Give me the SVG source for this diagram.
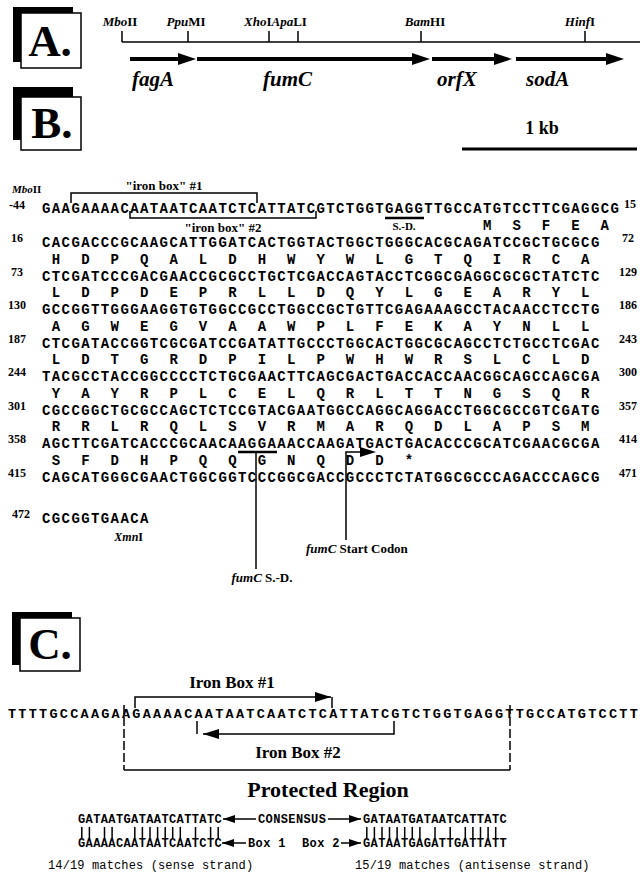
<svg xmlns="http://www.w3.org/2000/svg" width="643" height="875" viewBox="0 0 643 875">
<style>
text{white-space:pre}
.sv{font-family:"Liberation Serif","Times New Roman",serif;font-weight:bold;fill:#000}
.it{font-style:italic}
.sq{font-family:"Liberation Mono","Courier New",monospace;font-weight:bold;font-size:14px;letter-spacing:1.4px;fill:#000}
.sc{font-family:"Liberation Mono","Courier New",monospace;font-weight:bold;font-size:13.5px;letter-spacing:2.26px;fill:#000}
.sm{font-family:"Liberation Mono","Courier New",monospace;font-weight:bold;font-size:12px;letter-spacing:0.38px;fill:#000}
.mt{font-family:"Liberation Mono","Courier New",monospace;font-size:12px;letter-spacing:0.13px;fill:#000}
.num{font-family:"Liberation Serif","Times New Roman",serif;font-weight:bold;font-size:12px}
.ln{stroke:#000;stroke-width:1.5;fill:none}
.th{stroke:#000;stroke-width:4;fill:none}
</style>
<defs>
<marker id="ahL" markerUnits="userSpaceOnUse" markerWidth="16" markerHeight="10" refX="16" refY="5" orient="auto"><path d="M0,0 L16,5 L0,10 z" fill="#000"/></marker>
<marker id="ahS" markerUnits="userSpaceOnUse" markerWidth="12" markerHeight="8" refX="12" refY="4" orient="auto"><path d="M0,0 L12,4 L0,8 z" fill="#000"/></marker>
</defs>

<!-- Panel labels -->
<g id="labelA">
<rect x="13" y="7" width="60" height="55" fill="#000"/>
<rect x="21" y="13" width="60" height="55" fill="#fff" stroke="#000" stroke-width="1.5"/>
<text class="sv" x="50" y="56" font-size="45" text-anchor="middle">A.</text>
</g>
<g id="labelB">
<rect x="13" y="87" width="60" height="53" fill="#000"/>
<rect x="21" y="97" width="60" height="53" fill="#fff" stroke="#000" stroke-width="1.5"/>
<text class="sv" x="52" y="138" font-size="45" text-anchor="middle">B.</text>
</g>
<g id="labelC">
<rect x="12" y="612" width="60" height="53" fill="#000"/>
<rect x="20" y="618" width="60" height="53" fill="#fff" stroke="#000" stroke-width="1.5"/>
<text class="sv" x="50" y="659" font-size="45" text-anchor="middle">C.</text>
</g>

<!-- Panel A map -->
<g id="map">
<line class="ln" x1="122" y1="42" x2="640" y2="42" stroke-width="2.5"/>
<g class="ln" stroke-width="2.5">
<line x1="122" y1="31" x2="122" y2="42"/>
<line x1="188" y1="31" x2="188" y2="42"/>
<line x1="269" y1="31" x2="269" y2="42"/>
<line x1="298" y1="31" x2="298" y2="42"/>
<line x1="421" y1="31" x2="421" y2="42"/>
<line x1="585" y1="31" x2="585" y2="42"/>
</g>
<g class="sv" font-size="13">
<text x="120" y="26" text-anchor="middle"><tspan class="it">Mbo</tspan>II</text>
<text x="186" y="26" text-anchor="middle"><tspan class="it">Ppu</tspan>MI</text>
<text x="244" y="26"><tspan class="it">Xho</tspan>I<tspan class="it">Apa</tspan>LI</text>
<text x="425" y="26" text-anchor="middle"><tspan class="it">Bam</tspan>HI</text>
<text x="580" y="26" text-anchor="middle"><tspan class="it">Hinf</tspan>I</text>
</g>
</g>
<g id="fagA"><line class="th" x1="130" y1="59" x2="180" y2="59"/><polygon points="178,53 196,59 178,65"/><text class="sv it" x="132" y="86" font-size="21">fagA</text></g>
<g id="fumC"><line class="th" x1="197" y1="59" x2="414" y2="59"/><polygon points="412,53 430,59 412,65"/><text class="sv it" x="263" y="86" font-size="21">fumC</text></g>
<g id="orfX"><line class="th" x1="432" y1="59" x2="496" y2="59"/><polygon points="494,53 512,59 494,65"/><text class="sv it" x="437" y="86" font-size="21">orfX</text></g>
<g id="sodA"><line class="th" x1="516" y1="59" x2="608" y2="59"/><polygon points="606,53 624,59 606,65"/><text class="sv it" x="526" y="86" font-size="21">sodA</text></g>
<g id="scale"><line x1="462" y1="149" x2="637" y2="149" stroke="#000" stroke-width="3"/><text class="sv" x="542" y="134" font-size="18" text-anchor="middle">1 kb</text></g>

<!-- Panel B sequence -->
<g id="sequence">
<text class="sv" x="12" y="193" font-size="11"><tspan class="it">Mbo</tspan>II</text>
<g class="num" text-anchor="middle">
<text x="17" y="209">-44</text>
<text x="17" y="242">16</text>
<text x="17" y="276">73</text>
<text x="17" y="309">130</text>
<text x="17" y="343">187</text>
<text x="17" y="376">244</text>
<text x="17" y="410">301</text>
<text x="17" y="443">358</text>
<text x="17" y="477">415</text>
<text x="21" y="518">472</text>
</g>
<g class="num">
<text x="624" y="208">15</text>
<text x="622" y="242">72</text>
<text x="619" y="276">129</text>
<text x="619" y="309">186</text>
<text x="619" y="343">243</text>
<text x="619" y="376">300</text>
<text x="619" y="410">357</text>
<text x="619" y="443">414</text>
<text x="619" y="477">471</text>
</g>
<g class="sq">
<text x="42" y="213">GAAGAAAACAATAATCAATCTCATTATCGTCTGGTGAGGTTGCCATGTCCTTCGAGGCG</text>
<text x="483" y="230">M  S  F  E  A</text>
<text x="42" y="247">CACGACCCGCAAGCATTGGATCACTGGTACTGGCTGGGCACGCAGATCCGCTGCGCG</text>
<text x="51.8" y="264">H  D  P  Q  A  L  D  H  W  Y  W  L  G  T  Q  I  R  C  A</text>
<text x="42" y="281">CTCGATCCCGACGAACCGCGCCTGCTCGACCAGTACCTCGGCGAGGCGCGCTATCTC</text>
<text x="51.8" y="297">L  D  P  D  E  P  R  L  L  D  Q  Y  L  G  E  A  R  Y  L</text>
<text x="42" y="314">GCCGGTTGGGAAGGTGTGGCCGCCTGGCCGCTGTTCGAGAAAGCCTACAACCTCCTG</text>
<text x="51.8" y="331">A  G  W  E  G  V  A  A  W  P  L  F  E  K  A  Y  N  L  L</text>
<text x="42" y="348">CTCGATACCGGTCGCGATCCGATATTGCCCTGGCACTGGCGCAGCCTCTGCCTCGAC</text>
<text x="51.8" y="364">L  D  T  G  R  D  P  I  L  P  W  H  W  R  S  L  C  L  D</text>
<text x="42" y="381">TACGCCTACCGGCCCCTCTGCGAACTTCAGCGACTGACCACCAACGGCAGCCAGCGA</text>
<text x="51.8" y="398">Y  A  Y  R  P  L  C  E  L  Q  R  L  T  T  N  G  S  Q  R</text>
<text x="42" y="415">CGCCGGCTGCGCCAGCTCTCCGTACGAATGGCCAGGCAGGACCTGGCGCCGTCGATG</text>
<text x="51.8" y="431">R  R  L  R  Q  L  S  V  R  M  A  R  Q  D  L  A  P  S  M</text>
<text x="42" y="448">AGCTTCGATCACCCGCAACAAGGAAACCAAGATGACTGACACCCGCATCGAACGCGA</text>
<text x="51.8" y="465">S  F  D  H  P  Q  Q  G  N  Q  D  D  *</text>
<text x="42" y="482">CAGCATGGGCGAACTGGCGGTCCCGGCGACCGCCCTCTATGGCGCCCAGACCCAGCG</text>
<text x="42" y="523">CGCGGTGAACA</text>
</g>
<text class="sv" x="143" y="541" font-size="12" text-anchor="end"><tspan class="it">Xmn</tspan>I</text>
</g>

<g id="ironbox1B">
<path class="ln" d="M71,203 V193 H257 V203"/>
<text class="sv" x="164" y="190" font-size="13" text-anchor="middle">"iron box" #1</text>
</g>
<g id="ironbox2B">
<path class="ln" d="M130,211 V218 H316 V211"/>
<text class="sv" x="223" y="232" font-size="13" text-anchor="middle">"iron box" #2</text>
</g>
<g id="sdB">
<line x1="385" y1="218" x2="424" y2="218" stroke="#000" stroke-width="2.5"/>
<text class="sv" x="404" y="230" font-size="11" text-anchor="middle">S.-D.</text>
</g>
<g id="fumCsd">
<line x1="238" y1="452" x2="277" y2="452" stroke="#000" stroke-width="2.5"/>
<line class="ln" x1="256" y1="452" x2="256" y2="569"/>
<text class="sv" x="262" y="582" font-size="13" text-anchor="middle"><tspan class="it">fumC</tspan> S.-D.</text>
</g>
<g id="fumCstart">
<path class="ln" d="M346,540 V452 H362"/>
<polygon points="360,447 376,452 360,457"/>
<text class="sv" x="306" y="553" font-size="13"><tspan class="it">fumC</tspan> Start Codon</text>
</g>

<!-- Panel C -->
<g id="seqC">
<text class="sc" x="8" y="718">TTTTGCCAAGAAGAAAACAATAATCAATCTCATTATCGTCTGGTGAGGTTGCCATGTCCTT</text>
</g>
<g id="connectors">
<path class="ln" d="M135,708 V697 H331" marker-end="url(#ahL)"/>
<line class="ln" x1="332" y1="697" x2="332" y2="708"/>
<path class="ln" d="M394,721 V734 H203" marker-end="url(#ahL)"/>
<line class="ln" x1="197" y1="721" x2="197" y2="734"/>
<path class="ln" d="M124,705 V770" stroke-dasharray="9,3"/>
<path class="ln" d="M510,705 V770" stroke-dasharray="9,3"/>
<line class="ln" x1="124" y1="770" x2="510" y2="770"/>
<line class="ln" x1="256" y1="819" x2="223" y2="819" marker-end="url(#ahS)"/>
<line class="ln" x1="328" y1="819" x2="361" y2="819" marker-end="url(#ahS)"/>
<line class="ln" x1="246" y1="843" x2="222" y2="843" marker-end="url(#ahS)"/>
<line class="ln" x1="341" y1="843" x2="361" y2="843" marker-end="url(#ahS)"/>
</g>
<g id="ironbox1C"><text class="sv" x="232" y="688" font-size="17" text-anchor="middle">Iron Box #1</text></g>
<g id="ironbox2C"><text class="sv" x="298" y="758" font-size="17" text-anchor="middle">Iron Box #2</text></g>
<g id="protected"><text class="sv" x="328" y="797" font-size="22" text-anchor="middle">Protected Region</text></g>

<g id="alignment">
<text class="sm" x="78" y="823">GATAATGATAATCATTATC</text>
<text class="sm" x="258" y="823">CONSENSUS</text>
<text class="sm" x="363" y="823">GATAATGATAATCATTATC</text>
<text class="sm" x="78" y="847">GAAAACAATAATCAATCTC</text>
<text class="sm" x="248" y="847">Box 1</text>
<text class="sm" x="302" y="847">Box 2</text>
<text class="sm" x="363" y="847">GATAATGAGATTGATTATT</text>
<g stroke="#000" stroke-width="1.5">
<path d="M81.8,827V838M89.4,827V838M104.5,827V838M112.1,827V838M134.8,827V838M142.4,827V838M150,827V838M157.6,827V838M165.2,827V838M172.7,827V838M180.3,827V838M195.5,827V838M210.6,827V838M218.2,827V838"/>
<path d="M366.8,827V838M374.4,827V838M382,827V838M389.5,827V838M397.1,827V838M404.7,827V838M412.3,827V838M419.9,827V838M435,827V838M450.2,827V838M465.3,827V838M472.9,827V838M480.5,827V838M488.1,827V838M495.7,827V838"/>
</g>
<text class="mt" x="48" y="869">14/19 matches (sense strand)</text>
<text class="mt" x="355" y="869">15/19 matches (antisense strand)</text>
</g>
</svg>
